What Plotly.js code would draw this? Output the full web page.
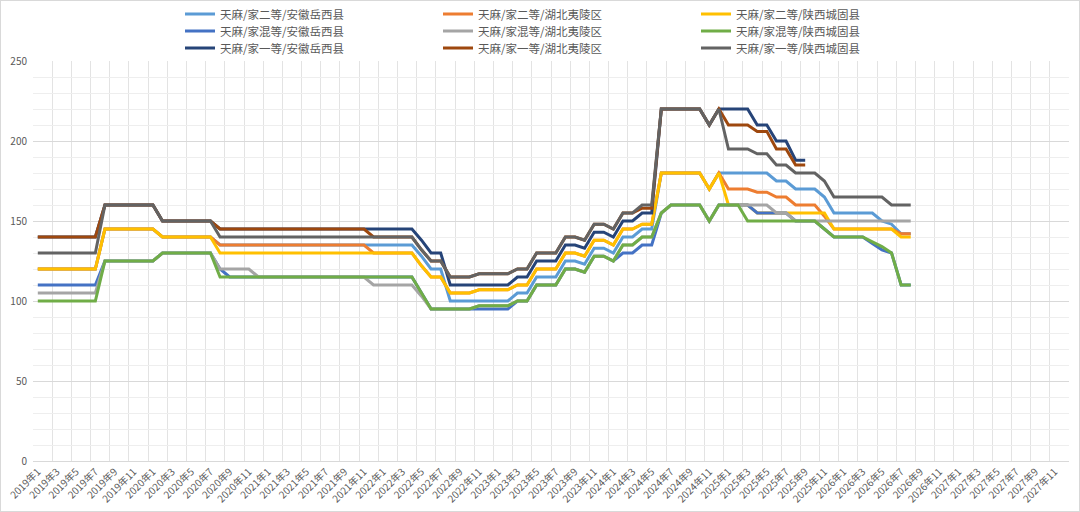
<!DOCTYPE html>
<html><head><meta charset="utf-8">
<script src="https://cdn.plot.ly/plotly-3.0.1.min.js"></script>
<style>
html,body{margin:0;padding:0;background:#fff;}
#wrap{position:absolute;left:0;top:0;width:1080px;height:512px;box-sizing:border-box;border:1px solid #d9d9d9;}
#chart{width:1078px;height:510px;}
</style></head><body><div id="wrap"><div id="chart"></div></div>
<script>
// categories (months)
const months = [
"2019年1","2019年2","2019年3","2019年4","2019年5","2019年6","2019年7","2019年8","2019年9","2019年10","2019年11","2019年12",
"2020年1","2020年2","2020年3","2020年4","2020年5","2020年6","2020年7","2020年8","2020年9","2020年10","2020年11","2020年12",
"2021年1","2021年2","2021年3","2021年4","2021年5","2021年6","2021年7","2021年8","2021年9","2021年10","2021年11","2021年12",
"2022年1","2022年2","2022年3","2022年4","2022年5","2022年6","2022年7","2022年8","2022年9","2022年10","2022年11","2022年12",
"2023年1","2023年2","2023年3","2023年4","2023年5","2023年6","2023年7","2023年8","2023年9","2023年10","2023年11","2023年12",
"2024年1","2024年2","2024年3","2024年4","2024年5","2024年6","2024年7","2024年8","2024年9","2024年10","2024年11","2024年12",
"2025年1","2025年2","2025年3","2025年4","2025年5","2025年6","2025年7","2025年8","2025年9","2025年10","2025年11","2025年12",
"2026年1","2026年2","2026年3","2026年4","2026年5","2026年6","2026年7","2026年8","2026年9","2026年10","2026年11","2026年12",
"2027年1","2027年2","2027年3","2027年4","2027年5","2027年6","2027年7","2027年8","2027年9","2027年10","2027年11","2027年12"
];

const seriesNames = [
"天麻/家二等/安徽岳西县","天麻/家二等/湖北夷陵区","天麻/家二等/陕西城固县",
"天麻/家混等/安徽岳西县","天麻/家混等/湖北夷陵区","天麻/家混等/陕西城固县",
"天麻/家一等/安徽岳西县","天麻/家一等/湖北夷陵区","天麻/家一等/陕西城固县"
];

const erdengAnhui = [
120,120,120,120,120,120,120,145,145,145,145,145,
145,140,140,140,140,140,140,135,135,135,135,135,
135,135,135,135,135,135,135,135,135,135,135,135,
135,135,135,135,128,120,120,100,100,100,100,100,
100,100,105,105,115,115,115,125,125,123,133,133,
130,140,140,145,145,180,180,180,180,180,170,180,
180,180,180,180,180,175,175,170,170,170,165,155,
155,155,155,155,150,148,142,142];

const erdengHubei = [
120,120,120,120,120,120,120,145,145,145,145,145,
145,140,140,140,140,140,140,135,135,135,135,135,
135,135,135,135,135,135,135,135,135,135,135,130,
130,130,130,130,122,115,115,105,105,105,107,107,
107,107,110,110,120,120,120,130,130,128,138,138,
135,145,145,148,148,180,180,180,180,180,170,180,
170,170,170,168,168,165,165,160,160,160,153,145,
145,145,145,145,145,145,142,142];

const erdengShaanxi = [
120,120,120,120,120,120,120,145,145,145,145,145,
145,140,140,140,140,140,140,130,130,130,130,130,
130,130,130,130,130,130,130,130,130,130,130,130,
130,130,130,130,122,115,115,105,105,105,107,107,
107,107,110,110,120,120,120,130,130,128,138,138,
135,145,145,148,148,180,180,180,180,180,170,180,
160,160,160,155,155,155,155,155,155,155,155,145,
145,145,145,145,145,145,140,140];

const hundengAnhui = [
110,110,110,110,110,110,110,125,125,125,125,125,
125,130,130,130,130,130,130,120,115,115,115,115,
115,115,115,115,115,115,115,115,115,115,115,115,
115,115,115,115,105,95,95,95,95,95,95,95,
95,95,100,100,110,110,110,120,120,118,128,128,
125,130,130,135,135,155,160,160,160,160,150,160,
160,160,160,155,155,155,155,150,150,150,145,140,
140,140,140,136,132,130,110,110];

const hundengHubei = [
105,105,105,105,105,105,105,125,125,125,125,125,
125,130,130,130,130,130,130,120,120,120,120,115,
115,115,115,115,115,115,115,115,115,115,115,110,
110,110,110,110,103,95,95,95,95,95,97,97,
97,97,100,100,110,110,110,120,120,118,128,128,
125,135,135,140,140,155,160,160,160,160,150,160,
160,160,160,160,160,155,155,150,150,150,150,150,
150,150,150,150,150,150,150,150];

const hundengShaanxi = [
100,100,100,100,100,100,100,125,125,125,125,125,
125,130,130,130,130,130,130,115,115,115,115,115,
115,115,115,115,115,115,115,115,115,115,115,115,
115,115,115,115,105,95,95,95,95,95,97,97,
97,97,100,100,110,110,110,120,120,118,128,128,
125,135,135,140,140,155,160,160,160,160,150,160,
160,160,150,150,150,150,150,150,150,150,145,140,
140,140,140,137,134,130,110,110];

const yidengAnhui = [
140,140,140,140,140,140,140,160,160,160,160,160,
160,150,150,150,150,150,150,145,145,145,145,145,
145,145,145,145,145,145,145,145,145,145,145,145,
145,145,145,145,138,130,130,110,110,110,110,110,
110,110,115,115,125,125,125,135,135,133,143,143,
140,150,150,155,155,220,220,220,220,220,210,220,
220,220,220,210,210,200,200,188,188,null,null,null,
null,null,null,null,null,null,null,null];

const yidengHubei = [
140,140,140,140,140,140,140,160,160,160,160,160,
160,150,150,150,150,150,150,145,145,145,145,145,
145,145,145,145,145,145,145,145,145,145,145,140,
140,140,140,140,132,125,125,115,115,115,117,117,
117,117,120,120,130,130,130,140,140,138,148,148,
145,155,155,158,158,220,220,220,220,220,210,220,
210,210,210,206,206,195,195,185,185,null,null,null,
null,null,null,null,null,null,null,null];

const yidengShaanxi = [
130,130,130,130,130,130,130,160,160,160,160,160,
160,150,150,150,150,150,150,140,140,140,140,140,
140,140,140,140,140,140,140,140,140,140,140,140,
140,140,140,140,132,125,125,115,115,115,117,117,
117,117,120,120,130,130,130,140,140,138,148,148,
145,155,155,160,160,220,220,220,220,220,210,220,
195,195,195,192,192,185,185,180,180,180,175,165,
165,165,165,165,165,160,160,160];

const seriesValues = [erdengAnhui, erdengHubei, erdengShaanxi,
                      hundengAnhui, hundengHubei, hundengShaanxi,
                      yidengAnhui, yidengHubei, yidengShaanxi];
const colors = ["#5B9BD5","#ED7D31","#FFC000","#4472C4","#A5A5A5","#70AD47","#264478","#9E480E","#636363"];
const legendIds = ["legend","legend","legend","legend2","legend2","legend2","legend3","legend3","legend3"];

const FONT = '"Noto Sans CJK SC", "Noto Sans", sans-serif';

const traces = seriesValues.map((vals, k) => ({
  type: 'scatter', mode: 'lines',
  name: seriesNames[k],
  x: vals.map((v, i) => i),
  y: vals,
  line: {color: colors[k], width: 3},
  legend: legendIds[k],
  hoverinfo: 'skip'
}));

const tickIdx = months.map((m, i) => i).filter(i => i % 2 === 0);
const tickText = tickIdx.map(i => months[i]);
const gridVals = [];
for (let g = -0.5; g <= months.length - 0.5; g += 2) gridVals.push(g);

const legendCommon = {
  orientation: 'h', xref: 'container', yref: 'container',
  x: 179/1078, xanchor: 'left', yanchor: 'middle',
  entrywidth: 213, entrywidthmode: 'pixels',
  font: {family: FONT, size: 11.5, color: '#595959'},
  bgcolor: 'rgba(0,0,0,0)', borderwidth: 0, itemclick: false, itemdoubleclick: false
};

const layout = {
  width: 1078, height: 510,
  margin: {l: 32, r: 10, t: 60, b: 50, autoexpand: false},
  paper_bgcolor: '#ffffff', plot_bgcolor: '#ffffff',
  showlegend: true,
  legend:  Object.assign({}, legendCommon, {y: 1 - 13/510}),
  legend2: Object.assign({}, legendCommon, {y: 1 - 30/510}),
  legend3: Object.assign({}, legendCommon, {y: 1 - 47/510}),
  xaxis: {
    range: [-0.5, months.length - 0.5],
    tickmode: 'array', tickvals: tickIdx, ticktext: tickText,
    tickangle: -45, ticks: '', showgrid: false, zeroline: false,
    showline: true, linecolor: '#d9d9d9', linewidth: 1,
    tickfont: {family: FONT, size: 10, color: '#595959'},
    minor: {tickmode: 'array', tickvals: gridVals, showgrid: true, gridcolor: '#e3e3e3', gridwidth: 1, ticks: ''},
    fixedrange: true
  },
  yaxis: {
    range: [0, 250], tickmode: 'linear', tick0: 0, dtick: 50,
    ticks: '', showgrid: true, gridcolor: '#d9d9d9', gridwidth: 1,
    zeroline: false, showline: false, ticklabelstandoff: 5,
    tickfont: {family: FONT, size: 10, color: '#595959'},
    minor: {tick0: 0, dtick: 10, showgrid: true, gridcolor: '#eeeeee', gridwidth: 1, ticks: ''},
    fixedrange: true
  }
};

Plotly.newPlot('chart', traces, layout, {displayModeBar: false, staticPlot: true});
</script>
</body></html>
